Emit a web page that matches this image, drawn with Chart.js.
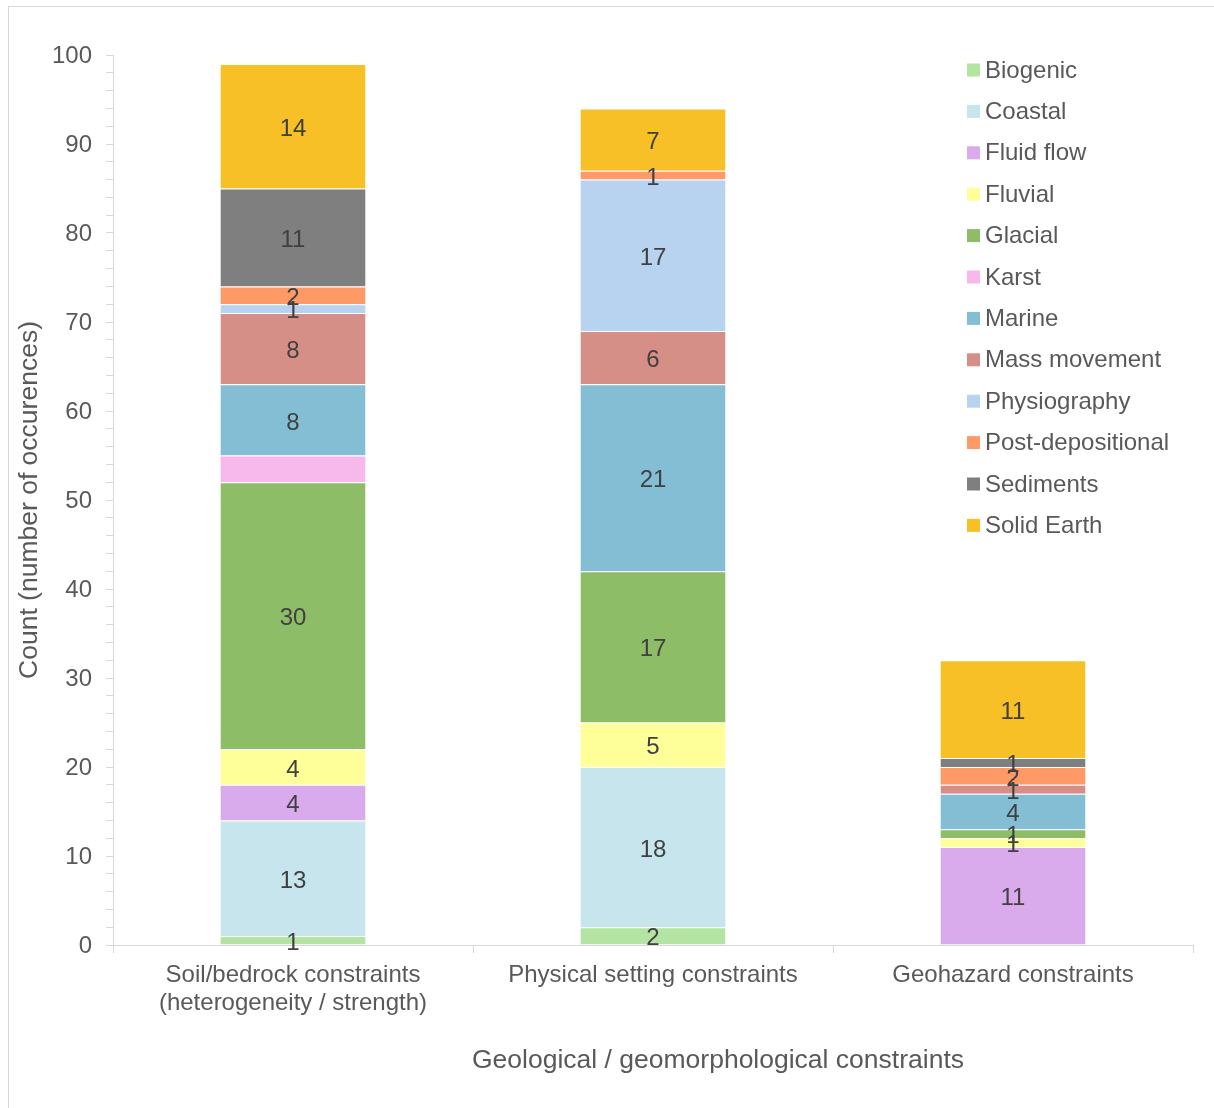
<!DOCTYPE html>
<html>
<head>
<meta charset="utf-8">
<script src="https://cdn.jsdelivr.net/npm/chart.js@4.4.1/dist/chart.umd.min.js"></script>
<style>
  html, body { margin: 0; padding: 0; background: #fff; overflow: hidden; }
  #frame { position: absolute; left: 8px; top: 6px; width: 1220px; height: 1120px; border: 1px solid #d9d9d9; box-sizing: border-box; }
  #wrap { position: absolute; left: 0; top: 0; width: 1214px; height: 1108px; }
</style>
</head>
<body>
<div id="frame"></div>
<div id="wrap"><canvas id="chart" width="1214" height="1108"></canvas></div>
<script>
// Constraint groups along the x axis
const categories = [
  ['Soil/bedrock constraints', '(heterogeneity / strength)'],
  'Physical setting constraints',
  'Geohazard constraints'
];

// Occurrence counts per geological / geomorphological theme (one value per group)
const biogenic          = [1, 2, 0];
const coastal           = [13, 18, 0];
const fluidFlow         = [4, 0, 11];
const fluvial           = [4, 5, 1];
const glacial           = [30, 17, 1];
const karst             = [3, 0, 0];
const marine            = [8, 21, 4];
const massMovement      = [8, 6, 1];
const physiography      = [1, 17, 0];
const postDepositional  = [2, 1, 2];
const sediments         = [11, 0, 1];
const solidEarth        = [14, 7, 11];

// Y axis: labelled every 10, minor tick marks every 2
const yMin = 0, yMax = 100, yLabelStep = 10, yMinorStep = 2;

// Series whose segments carry no value label
const unlabelledSeries = ['Karst'];

const series = [
  { label: 'Biogenic',          data: biogenic,         color: '#b4e4a2' },
  { label: 'Coastal',           data: coastal,          color: '#c7e5ed' },
  { label: 'Fluid flow',        data: fluidFlow,        color: '#d9aaec' },
  { label: 'Fluvial',           data: fluvial,          color: '#ffff99' },
  { label: 'Glacial',           data: glacial,          color: '#8dbd67' },
  { label: 'Karst',             data: karst,            color: '#f7b9eb' },
  { label: 'Marine',            data: marine,           color: '#83bed5' },
  { label: 'Mass movement',     data: massMovement,     color: '#d58f87' },
  { label: 'Physiography',      data: physiography,     color: '#b8d3ef' },
  { label: 'Post-depositional', data: postDepositional, color: '#ff9966' },
  { label: 'Sediments',         data: sediments,        color: '#7f7f7f' },
  { label: 'Solid Earth',       data: solidEarth,       color: '#f8c027' }
];

const FONT = '"Liberation Sans", Arial, sans-serif';
const TEXT = '#595959';

// Value labels centred in each stacked segment
const segmentLabels = {
  id: 'segmentLabels',
  afterDatasetsDraw(chart) {
    const ctx = chart.ctx;
    ctx.save();
    ctx.font = '24px ' + FONT;
    ctx.fillStyle = '#404040';
    ctx.textAlign = 'center';
    ctx.textBaseline = 'middle';
    chart.data.datasets.forEach((ds, i) => {
      if (unlabelledSeries.includes(ds.label)) return;
      const meta = chart.getDatasetMeta(i);
      meta.data.forEach((bar, j) => {
        const v = ds.data[j];
        if (!v) return;
        ctx.fillText(String(v), bar.x, (bar.y + bar.base) / 2 + 3);
      });
    });
    ctx.restore();
  }
};

// Vertical legend in the upper right of the plot, plus the x axis title
const sideLegend = {
  id: 'sideLegend',
  afterDraw(chart) {
    const ctx = chart.ctx;
    const area = chart.chartArea;
    const x0 = area.right - 226;
    const y0 = area.top + 15;
    const rowH = 41.4;
    ctx.save();
    ctx.font = '24px ' + FONT;
    ctx.textBaseline = 'middle';
    ctx.textAlign = 'left';
    chart.data.datasets.forEach((ds, i) => {
      const cy = y0 + i * rowH;
      ctx.fillStyle = ds.backgroundColor;
      ctx.fillRect(x0, cy - 6.5, 13, 13);
      ctx.fillStyle = TEXT;
      ctx.fillText(ds.label, x0 + 18, cy + 1);
    });
    ctx.font = '26.5px ' + FONT;
    ctx.textAlign = 'center';
    ctx.fillText('Geological / geomorphological constraints',
      (area.left + area.right) / 2 + 65, area.bottom + 116);
    ctx.restore();
  }
};

new Chart(document.getElementById('chart'), {
  type: 'bar',
  data: {
    labels: categories,
    datasets: series.map(s => ({
      label: s.label,
      data: s.data,
      backgroundColor: s.color,
      borderColor: 'rgba(255,255,255,0.55)',
      borderWidth: { top: 1, left: 0, right: 0, bottom: 0 },
      borderSkipped: false,
      categoryPercentage: 1,
      barPercentage: 0.403
    }))
  },
  options: {
    responsive: false,
    animation: false,
    layout: { padding: { left: 0, top: 55, right: 21, bottom: 0 } },
    plugins: {
      legend: { display: false },
      tooltip: { enabled: false }
    },
    scales: {
      x: {
        stacked: true,
        grid: { display: true, drawOnChartArea: false, drawTicks: true, tickLength: 8, color: '#d9d9d9', offset: true },
        border: { display: true, color: '#d9d9d9', width: 1 },
        ticks: { color: TEXT, font: { family: FONT, size: 24, lineHeight: 1.17 }, padding: 8, maxRotation: 0, autoSkip: false },
        afterFit(scale) { scale.height = 163; }
      },
      y: {
        stacked: true,
        min: yMin,
        max: yMax,
        grid: { display: true, drawOnChartArea: false, drawTicks: true, tickLength: 7, color: '#d9d9d9' },
        border: { display: true, color: '#d9d9d9', width: 1 },
        ticks: {
          stepSize: yMinorStep,
          autoSkip: false,
          color: TEXT,
          padding: 14,
          labelOffset: 1,
          font: { family: FONT, size: 24 },
          callback: v => (v % yLabelStep === 0 ? String(v) : '')
        },
        title: {
          display: true,
          text: 'Count (number of occurences)',
          color: TEXT,
          font: { family: FONT, size: 26.5 },
          padding: { top: 14, bottom: 0 }
        },
        afterFit(scale) { scale.width = 113; }
      }
    }
  },
  plugins: [segmentLabels, sideLegend]
});
</script>
</body>
</html>
